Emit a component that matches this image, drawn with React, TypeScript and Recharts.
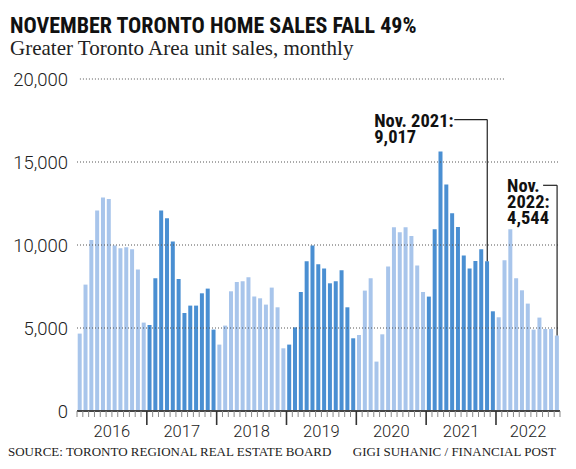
import React from 'react';
import { BarChart, Bar, XAxis, YAxis, Cell, ReferenceLine, ReferenceDot } from 'recharts';

// GTA monthly unit sales, Jan 2016 - Nov 2022
const years = [2016, 2017, 2018, 2019, 2020, 2021, 2022];
const months = ['Jan', 'Feb', 'Mar', 'Apr', 'May', 'Jun', 'Jul', 'Aug', 'Sep', 'Oct', 'Nov', 'Dec'];
const sales2016 = [4663, 7614, 10301, 12072, 12855, 12771, 9963, 9801, 9861, 9741, 8518, 5325];
const sales2017 = [5181, 7994, 12072, 11608, 10205, 7952, 5904, 6349, 6349, 7090, 7373, 4904];
const sales2018 = [4000, 5145, 7211, 7771, 7813, 8054, 6892, 6789, 6410, 7434, 6247, 3777];
const sales2019 = [4000, 5042, 7169, 9018, 9963, 8837, 8578, 7693, 7813, 8476, 6247, 4380];
const sales2020 = [4578, 7253, 7994, 2976, 4620, 8699, 11066, 10765, 11066, 10542, 8759, 7169];
const sales2021 = [6892, 10946, 15626, 13639, 11910, 11084, 9361, 8578, 9036, 9741, 9017, 6006];
const sales2022 = [5645, 9078, 10946, 7994, 7271, 6470, 4904, 5627, 4940, 4940, 4544];
const yTicks = [0, 5000, 10000, 15000, 20000];

const salesByYear = [sales2016, sales2017, sales2018, sales2019, sales2020, sales2021, sales2022];

const data = salesByYear.flatMap((vals, yi) =>
  vals.map((v, mi) => ({
    key: `${months[mi]} ${years[yi]}`,
    year: years[yi],
    month: mi,
    count: vals.length,
    sales: v,
  }))
);

const W = 576;
const H = 469;
const MARGIN = { top: 79, right: 16, left: 0, bottom: 0 };
const Y_AXIS_W = 77;
const X_AXIS_H = 58;
const PLOT_W = W - MARGIN.left - MARGIN.right - Y_AXIS_W;
const STEP = PLOT_W / data.length;
const BASE = H - MARGIN.bottom - X_AXIS_H;

const LIGHT = '#a8c5eb';
const DARK = '#4a8fd2';
const NARROW = '"Liberation Sans Narrow", "Roboto Condensed", Roboto, sans-serif';
const AXIS_FONT = 'Roboto, "Noto Sans", sans-serif';
const SERIF = '"Liberation Serif", "DejaVu Serif", serif';

const XTick = (props: any) => {
  const { x, payload } = props;
  const i = payload.index;
  const d = data[i];
  if (!d) return null;
  const left = x - STEP / 2;
  const major = d.month === 0 && i > 0;
  return (
    <g>
      <line
        x1={left} x2={left} y1={BASE} y2={BASE + (major ? 14 : 6)}
        stroke={major ? '#333' : '#8a8a8a'} strokeWidth={major ? 1.6 : 1}
      />
      {i === data.length - 1 && (
        <line x1={x + STEP / 2} x2={x + STEP / 2} y1={BASE} y2={BASE + 6} stroke="#8a8a8a" strokeWidth={1} />
      )}
      {d.month === 5 && (
        <text
          x={x + STEP * (d.count / 2 - 5.5)}
          y={BASE + 26}
          textAnchor="middle"
          fontFamily={AXIS_FONT}
          fontWeight={300}
          fontSize={16.5}
          fill="#222"
        >
          {d.year}
        </text>
      )}
    </g>
  );
};

const YTick = (props: any) => {
  const { y, payload } = props;
  return (
    <text x={68} y={y + 6.5} textAnchor="end" fontFamily={AXIS_FONT} fontWeight={300} fontSize={18.5} fill="#222">
      {payload.value.toLocaleString('en-US')}
    </text>
  );
};

// callout: text to the left of a short horizontal leader ending at the anchor
const Callout = ({ viewBox, lines, dx, lead }: any) => {
  if (!viewBox) return null;
  const { x, y } = viewBox;
  return (
    <g>
      <line x1={x - lead} x2={x} y1={y} y2={y} stroke="#222" strokeWidth={1.2} />
      <text fontFamily={NARROW} fontWeight={700} fontSize={18.5} fill="#111">
        {lines.map((t: string, k: number) => (
          <tspan key={k} x={x - dx} y={y + 7 + k * 16}>{t}</tspan>
        ))}
      </text>
    </g>
  );
};

const App: React.FC = () => {
  return (
    <div style={{ position: 'absolute', left: 0, top: 0, width: W, height: H, background: '#fff' }}>
      <BarChart width={W} height={H} data={data} margin={MARGIN} barCategoryGap="12%">
        <XAxis
          dataKey="key"
          interval={0}
          tickLine={false}
          axisLine={{ stroke: '#444', strokeWidth: 2 }}
          tick={<XTick />}
          height={X_AXIS_H}
        />
        <YAxis
          domain={[0, 20000]}
          ticks={yTicks}
          width={Y_AXIS_W}
          axisLine={false}
          tickLine={false}
          tick={<YTick />}
        />
        <Bar dataKey="sales" isAnimationActive={false}>
          {data.map((d, i) => (
            <Cell key={i} fill={(d.year - 2016) % 2 === 0 ? LIGHT : DARK} />
          ))}
        </Bar>
        {yTicks.filter(t => t > 0 && t < 20000).map(t => (
          <ReferenceLine key={t} y={t} stroke="#555" strokeDasharray="1 2" strokeWidth={1} />
        ))}
        <ReferenceLine
          segment={[{ x: 'Jan 2016', y: 20000 }, { x: 'Feb 2022', y: 20000 }]}
          stroke="#555" strokeDasharray="1 2" strokeWidth={1}
        />
        <ReferenceLine
          segment={[{ x: 'Nov 2021', y: 17554 }, { x: 'Nov 2021', y: 9017 }]}
          stroke="#222" strokeWidth={1.2}
        />
        <ReferenceLine
          segment={[{ x: 'Nov 2022', y: 13596 }, { x: 'Nov 2022', y: 4544 }]}
          stroke="#222" strokeWidth={1.2}
        />
        <ReferenceDot
          x="Nov 2021" y={17554} r={0} stroke="none" fill="none"
          label={<Callout lines={['Nov. 2021:', '9,017']} dx={113} lead={33} />}
        />
        <ReferenceDot
          x="Nov 2022" y={13596} r={0} stroke="none" fill="none"
          label={<Callout lines={['Nov.', '2022:', '4,544']} dx={50} lead={14} />}
        />
      </BarChart>
      <svg width={W} height={H} style={{ position: 'absolute', left: 0, top: 0, pointerEvents: 'none' }}>
        <text x={10} y={33} fontFamily={NARROW} fontWeight={700} fontSize={22} fill="#111">
          NOVEMBER TORONTO HOME SALES FALL 49%
        </text>
        <text x={10} y={55} fontFamily={SERIF} fontSize={21} fill="#222">
          Greater Toronto Area unit sales, monthly
        </text>
        <text x={8} y={456} fontFamily={SERIF} fontSize={13} fill="#222">
          SOURCE: TORONTO REGIONAL REAL ESTATE BOARD
        </text>
        <text x={556} y={456} textAnchor="end" fontFamily={SERIF} fontSize={13} fill="#222">
          GIGI SUHANIC / FINANCIAL POST
        </text>
      </svg>
    </div>
  );
};

export default App;
